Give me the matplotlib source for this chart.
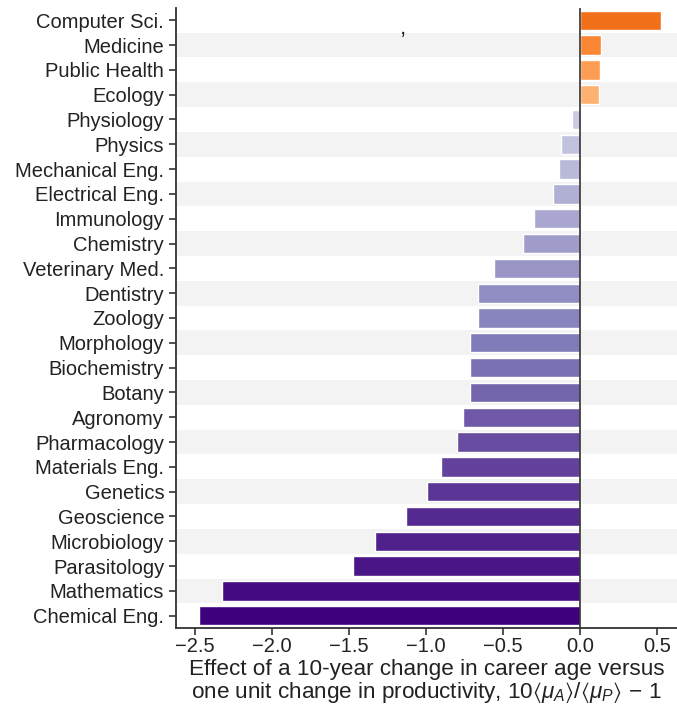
import matplotlib
matplotlib.use("Agg")
import matplotlib.pyplot as plt
import numpy as np

categories = ["Computer Sci.", "Medicine", "Public Health", "Ecology", "Physiology",
              "Physics", "Mechanical Eng.", "Electrical Eng.", "Immunology", "Chemistry",
              "Veterinary Med.", "Dentistry", "Zoology", "Morphology", "Biochemistry",
              "Botany", "Agronomy", "Pharmacology", "Materials Eng.", "Genetics",
              "Geoscience", "Microbiology", "Parasitology", "Mathematics", "Chemical Eng."]
values = [0.525, 0.14, 0.13, 0.125, -0.05,
          -0.12, -0.135, -0.175, -0.30, -0.37,
          -0.56, -0.66, -0.66, -0.71, -0.71,
          -0.715, -0.76, -0.80, -0.90, -0.99,
          -1.13, -1.33, -1.47, -2.32, -2.47]
xticks = [-2.5, -2.0, -1.5, -1.0, -0.5, 0.0, 0.5]

plt.rcParams['font.family'] = ['Liberation Sans', 'DejaVu Sans']
plt.rcParams['mathtext.fontset'] = 'custom'
plt.rcParams['mathtext.rm'] = 'Liberation Sans'
plt.rcParams['mathtext.it'] = 'Liberation Sans:italic'
plt.rcParams['mathtext.bf'] = 'Liberation Sans:bold'
plt.rcParams['mathtext.fallback'] = 'stixsans'

fig = plt.figure(figsize=(6.77, 7.13), dpi=100)
ax = fig.add_axes([0.26, 0.119, 0.74, 0.870])

n = len(categories)
y = np.arange(n)
pos_idx = [i for i, v in enumerate(values) if v > 0]
neg_idx = [i for i, v in enumerate(values) if v <= 0]
colors = [None] * n
ocm = plt.get_cmap('Oranges')
pcm = plt.get_cmap('Purples')
for k, i in enumerate(pos_idx):
    colors[i] = ocm(np.linspace(0.6, 0.36, len(pos_idx))[k])
for k, i in enumerate(neg_idx):
    colors[i] = pcm(np.linspace(0.32, 1.0, len(neg_idx))[k])

for i in range(n):
    if i % 2 == 1:
        ax.axhspan(i - 0.5, i + 0.5, color='#f3f3f3', lw=0, zorder=0)

ax.barh(y, values, height=0.78, color=colors, edgecolor='white', linewidth=1.0, zorder=2)
ax.axvline(0, color='#333333', lw=1.2, zorder=3)

ax.set_ylim(n - 0.5, -0.5)
ax.set_xlim(-2.62, 0.63)
ax.set_yticks(y)
ax.set_yticklabels(categories, fontsize=14.5, color='#222222')
ax.set_xticks(xticks)
ax.set_xticklabels([f"{t:.1f}".replace('-', '\u2212') for t in xticks], fontsize=14.5, color='#222222')
ax.tick_params(axis='both', direction='out', length=5, width=1.2, color='#333333')
ax.tick_params(axis='x', pad=1.5)
for s in ['top', 'right']:
    ax.spines[s].set_visible(False)
for s in ['left', 'bottom']:
    ax.spines[s].set_color('#333333')
    ax.spines[s].set_linewidth(1.3)

ax.set_xlabel("Effect of a 10-year change in career age versus\n"
              r"one unit change in productivity, $10\langle\mu_A\rangle/\langle\mu_P\rangle\,-\,1$",
              fontsize=16.2, color='#222222', labelpad=2, linespacing=1.0)

ax.text(-1.15, 0.35, ",", fontsize=16, color='#222222', ha='center', va='center', zorder=4)

fig.savefig("out.png", dpi=100)
